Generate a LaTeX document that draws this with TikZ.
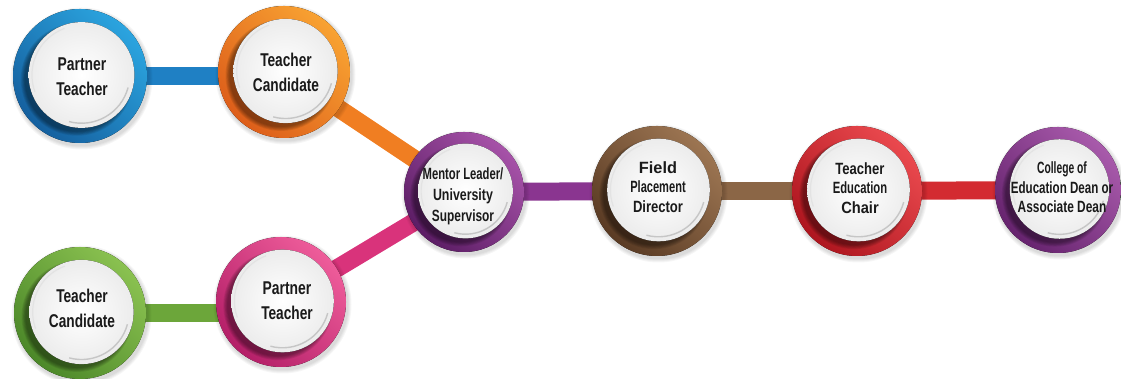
\documentclass[tikz,border=0pt]{standalone}
\usepackage{fontspec}
\setmainfont{Liberation Sans}
\usepackage{graphicx}
\definecolor{txt}{HTML}{1A1A1A}
\definecolor{blueD}{HTML}{15609F}\definecolor{blueL}{HTML}{2BA4DF}\definecolor{blueB}{HTML}{1F80C4}
\definecolor{orgD}{HTML}{DD5E1A}\definecolor{orgL}{HTML}{F8A232}\definecolor{orgB}{HTML}{F07E22}
\definecolor{purD}{HTML}{5C1D65}\definecolor{purL}{HTML}{A652A8}\definecolor{purB}{HTML}{8A3590}
\definecolor{brnD}{HTML}{5A3B24}\definecolor{brnL}{HTML}{9C7552}\definecolor{brnB}{HTML}{8B6646}
\definecolor{redD}{HTML}{AE161F}\definecolor{redL}{HTML}{EA494E}\definecolor{redB}{HTML}{D32B31}
\definecolor{colD}{HTML}{66236E}\definecolor{colL}{HTML}{A85AAB}
\definecolor{grnD}{HTML}{4C8829}\definecolor{grnL}{HTML}{8AC150}\definecolor{grnB}{HTML}{6CA63A}
\definecolor{pnkD}{HTML}{B41F68}\definecolor{pnkL}{HTML}{EE5C9A}\definecolor{pnkB}{HTML}{D9337B}
\newcommand\sqz[2]{\scalebox{#1}[1]{#2}}
\newcommand\bigfont{\fontsize{18.5}{25}\selectfont\bfseries}
\newcommand\midfont{\fontsize{16.3}{19.5}\selectfont\bfseries}
\newcommand\menfont{\fontsize{16.3}{21}\selectfont\bfseries}
\newcommand\ringhub[4]{%
  \begin{scope}[shift={(#1.center)}]
    \foreach \k in {1,...,4} \fill[black,opacity=0.035] (1.5,-2.5) circle ({#2+\k});
    \fill[top color=#4,bottom color=#3,shading angle=-45] (0,0) circle (#2);
    \foreach \k in {0,...,5} \fill[black,opacity=0.08] (-3,-3.5) circle ({#2*0.78+\k*0.8});
    \fill[inner color=white,outer color=gray!15] (1.5,1) circle ({#2*0.79});
    \draw[gray!22,line width=1.2pt] (1.5,1) ++(110:{#2*0.74}) arc (110:200:{#2*0.74});
    \draw[gray!45,line width=1.4pt] (1.5,1) ++(-15:{#2*0.72}) arc (-15:-105:{#2*0.72});
  \end{scope}}
\begin{document}
\begin{tikzpicture}[x=1pt,y=1pt,
  hub/.style={circle,inner sep=0pt,minimum size=#1},
  bar/.style={line width=18pt},
  lbl/.style={inner sep=0pt,text=txt}]
\fill[white] (0,0) rectangle (1121,379);
\useasboundingbox (0,0) rectangle (1121,379);
% hub positions
\node[hub=134] (a) at (80,303) {};
\node[hub=132] (b) at (284,307) {};
\node[hub=120] (c) at (464,187) {};
\node[hub=130] (d) at (657,188) {};
\node[hub=130] (e) at (857,188) {};
\node[hub=126] (f) at (1058,189) {};
\node[hub=132] (g) at (80,66) {};
\node[hub=130] (h) at (281,77) {};
% connectors
\draw[bar,blueB] (a.center) -- (a.center -| b.center);
\draw[bar,orgB] (b.center) -- (c.center);
\draw[bar,pnkB] (h.center) -- (c.center);
\draw[bar,purB] (c.center) -- (d.center);
\draw[bar,brnB] (d.center) -- (e.center);
\draw[bar,redB] (e.center) -- (f.center);
\draw[bar,grnB] (g.center) -- (g.center -| h.center);
% rings
\ringhub{a}{67}{blueD}{blueL}
\ringhub{b}{66}{orgD}{orgL}
\ringhub{c}{60}{purD}{purL}
\ringhub{d}{65}{brnD}{brnL}
\ringhub{e}{65}{redD}{redL}
\ringhub{f}{63}{colD}{colL}
\ringhub{g}{66}{grnD}{grnL}
\ringhub{h}{65}{pnkD}{pnkL}
% labels
\node[lbl,font=\bigfont] (at) at (82,301) {\begin{tabular}{@{}c@{}}\sqz{.75}{Partner}\\\sqz{.74}{Teacher}\end{tabular}};
\node[lbl,font=\bigfont] (bt) at (286,305) {\begin{tabular}{@{}c@{}}\sqz{.74}{Teacher}\\\sqz{.74}{Candidate}\end{tabular}};
\node[lbl,font=\bigfont] (gt) at (82,69) {\begin{tabular}{@{}c@{}}\sqz{.74}{Teacher}\\\sqz{.74}{Candidate}\end{tabular}};
\node[lbl,font=\bigfont] (ht) at (287,77) {\begin{tabular}{@{}c@{}}\sqz{.75}{Partner}\\\sqz{.74}{Teacher}\end{tabular}};
\node[lbl,font=\menfont] (ct) at (463,182.5) {\begin{tabular}{@{}c@{}}\sqz{.69}{Mentor Leader/}\\\sqz{.76}{University}\\\sqz{.73}{Supervisor}\end{tabular}};
\node[lbl,font=\midfont] (dt) at (658,190) {\begin{tabular}{@{}c@{}}\sqz{1.0}{Field}\\\sqz{.68}{Placement}\\\sqz{.8}{Director}\end{tabular}};
\node[lbl,font=\midfont] (et) at (860,189) {\begin{tabular}{@{}c@{}}\sqz{.8}{Teacher}\\\sqz{.69}{Education}\\\sqz{.9}{Chair}\end{tabular}};
\node[lbl,font=\midfont] (ft) at (1062,189.5) {\begin{tabular}{@{}c@{}}\sqz{.63}{College of}\\\sqz{.71}{Education Dean or}\\\sqz{.73}{Associate Dean}\end{tabular}};
\end{tikzpicture}
\end{document}
